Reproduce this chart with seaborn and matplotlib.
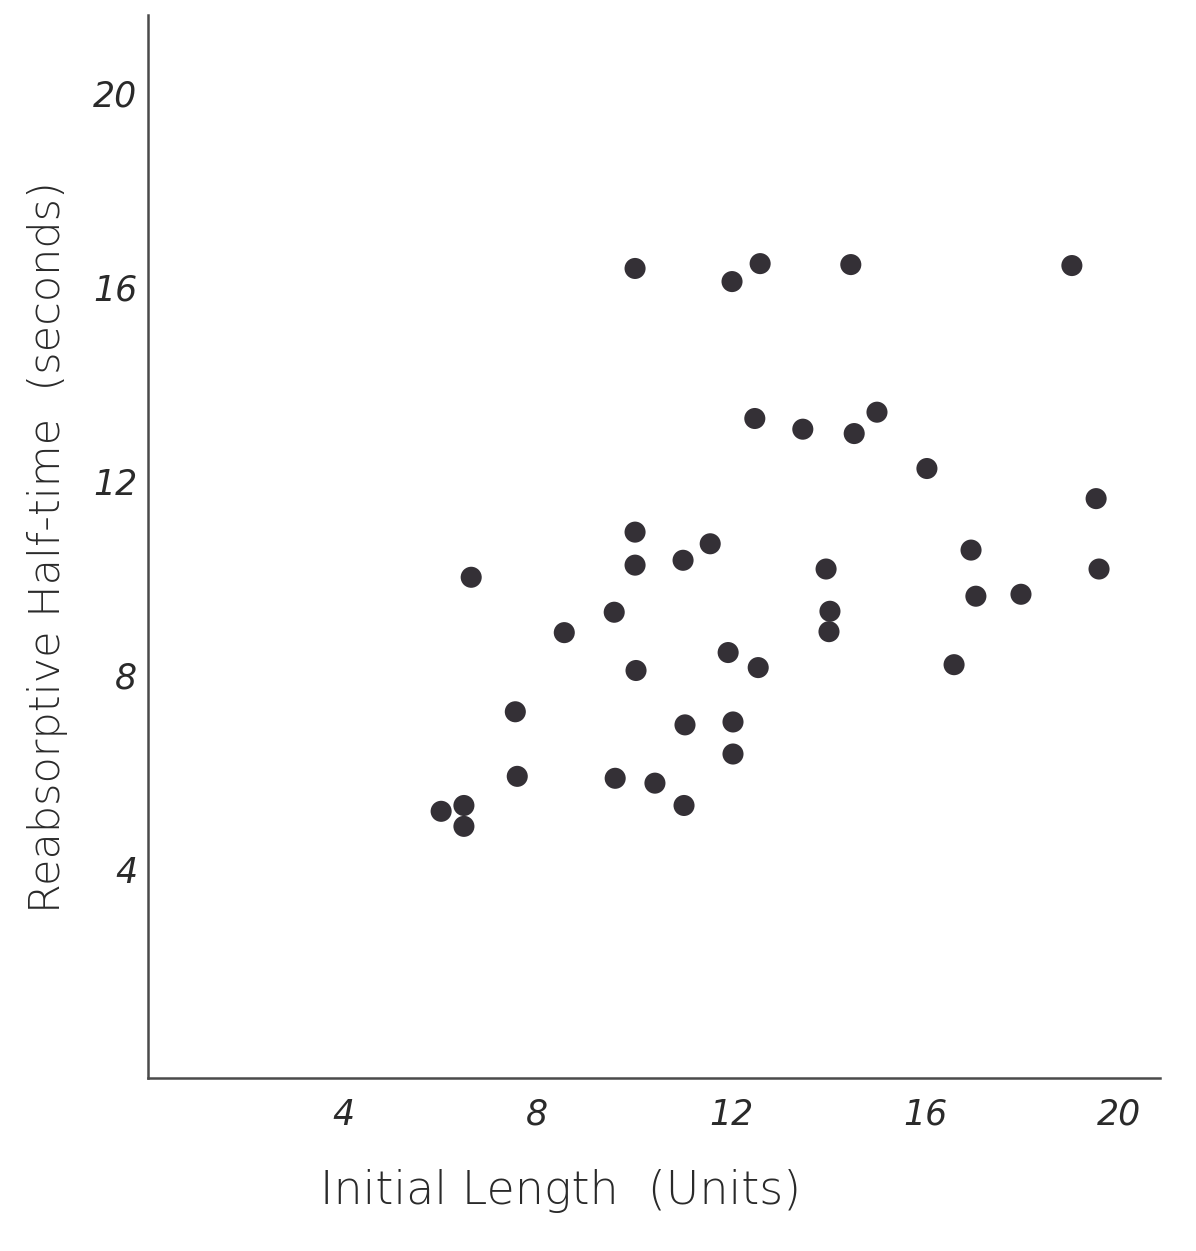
import matplotlib
matplotlib.use("Agg")
import matplotlib.pyplot as plt
import seaborn as sns
import pandas as pd

# initial length (units) vs reabsorptive half-time (seconds)
initial_length = [
    10.02, 12.02, 12.60, 14.47, 19.03,
    12.49, 13.48, 14.54, 15.01, 16.04, 19.53,
    10.02, 10.02, 11.01, 11.57, 6.64, 13.96, 16.95, 19.59, 17.05, 17.98,
    8.56, 9.59, 14.04, 14.02, 10.04, 11.94, 12.56, 16.60,
    7.55, 11.05, 12.04, 12.04, 7.59, 9.61, 10.43, 11.03, 6.02, 6.49, 6.49,
]
half_time = [
    16.38, 16.11, 16.48, 16.46, 16.44,
    13.29, 13.07, 12.98, 13.42, 12.26, 11.64,
    10.95, 10.27, 10.37, 10.71, 10.02, 10.19, 10.58, 10.19, 9.63, 9.67,
    8.88, 9.30, 9.32, 8.90, 8.10, 8.47, 8.16, 8.22,
    7.25, 6.98, 7.04, 6.38, 5.92, 5.88, 5.78, 5.32, 5.20, 5.32, 4.89,
]
x_ticks = [4, 8, 12, 16, 20]
y_ticks = [4, 8, 12, 16, 20]

df = pd.DataFrame({"length": initial_length, "halftime": half_time})

sns.set_style("white")
plt.rcParams["font.family"] = ["DejaVu Sans"]

fig = plt.figure(figsize=(11.96, 12.51), dpi=100)
ax = fig.add_axes([0.124, 0.138, 0.846, 0.85])

sns.scatterplot(data=df, x="length", y="halftime", ax=ax, s=230,
                color="#343036", edgecolor="none", legend=False)

ax.set_xlim(-0.02, 20.85)
ax.set_ylim(-0.3, 21.6)
ax.set_xticks(x_ticks)
ax.set_yticks(y_ticks)
ax.tick_params(axis="both", length=0, labelsize=25, colors="#2a2a2a")
ax.tick_params(axis="x", pad=14)
ax.tick_params(axis="y", pad=8)
for lab in ax.get_xticklabels() + ax.get_yticklabels():
    lab.set_fontstyle("italic")
    lab.set_fontweight("light")

for side in ["top", "right"]:
    ax.spines[side].set_visible(False)
for side in ["left", "bottom"]:
    ax.spines[side].set_color("#4a4a4a")
    ax.spines[side].set_linewidth(1.8)

ax.set_xlabel("Initial Length  (Units)", fontsize=33, color="#2a2a2a",
              labelpad=26, fontweight="light")
ax.xaxis.set_label_coords(0.407, -0.085)
ax.set_ylabel("Reabsorptive Half-time  (seconds)", fontsize=31,
              color="#2a2a2a", labelpad=18, fontweight="light")

fig.savefig("out.png", dpi=100, facecolor="white")
